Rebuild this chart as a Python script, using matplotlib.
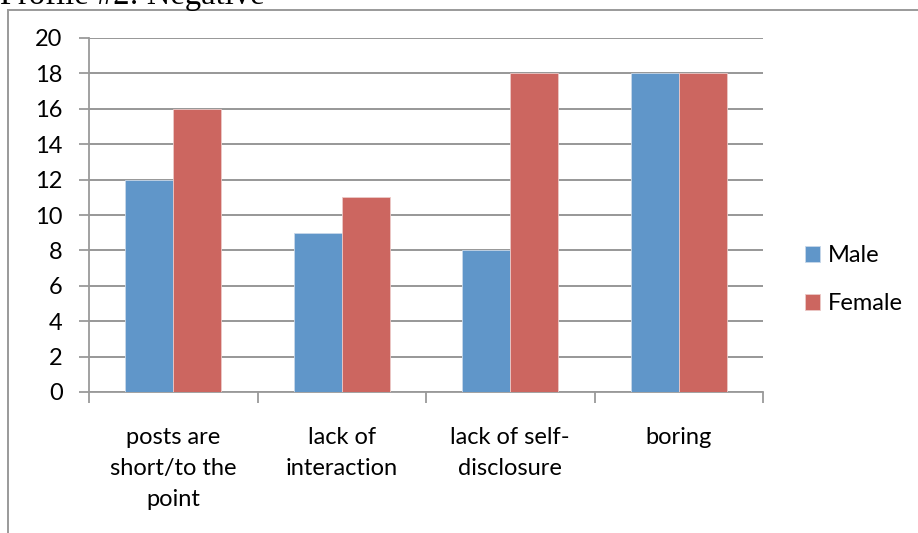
import matplotlib
matplotlib.use("Agg")
import matplotlib.pyplot as plt
import numpy as np
from matplotlib.lines import Line2D

# data
categories = ["posts are\nshort/to the\npoint", "lack of\ninteraction",
              "lack of self-\ndisclosure", "boring"]
male = [12, 9, 8, 18]
female = [16, 11, 18, 18]
series_names = ["Male", "Female"]
y_ticks = [0, 2, 4, 6, 8, 10, 12, 14, 16, 18, 20]

W, H = 918, 533
fig = plt.figure(figsize=(W / 100, H / 100), dpi=100)
plt.rcParams['font.family'] = ['Lato', 'DejaVu Sans']

# frame of the (cropped) chart area
grey = "#9a9a9a"
fig.add_artist(Line2D([8 / W, 1], [1 - 10 / H, 1 - 10 / H], color=grey, lw=1.4))
fig.add_artist(Line2D([8 / W, 8 / W], [1 - 10 / H, 0], color=grey, lw=1.4))

# title, cut off at the top
fig.text(0 / W, 1 - 4 / H, "Profile #2: Negative", family="Liberation Serif",
         fontsize=23.5, va="baseline", ha="left")

ax = fig.add_axes([89 / W, (H - 392) / H, (763 - 89) / W, (392 - 38) / H])

x = np.arange(len(categories)) + 0.5
bw = 0.285
ax.bar(x - bw / 2, male, bw, color="#6096c9", edgecolor="#c8d8ea", linewidth=0.6,
       label=series_names[0], zorder=3)
ax.bar(x + bw / 2, female, bw, color="#cc6660", edgecolor="#ecc9c7", linewidth=0.6,
       label=series_names[1], zorder=3)

ax.set_xlim(0, 4)
ax.set_ylim(0, 20)
ax.set_yticks(y_ticks)
ax.yaxis.grid(True, color="#8f8f8f", lw=1.3, zorder=0)
ax.tick_params(axis="y", length=7, width=1.3, color=grey, labelsize=17, pad=12)

# category labels centred, ticks at boundaries
ax.set_xticks(np.arange(0, 5))
ax.set_xticklabels([])
ax.tick_params(axis="x", length=8, width=1.3, color=grey)
for xi, lab in zip(x, categories):
    ax.text(xi, -1.95, lab, ha="center", va="top", fontsize=17, linespacing=1.6)

for s in ["top", "right"]:
    ax.spines[s].set_visible(False)
for s in ["left", "bottom"]:
    ax.spines[s].set_color(grey)
    ax.spines[s].set_linewidth(1.3)

ax.legend(loc="upper left", bbox_to_anchor=(805 / W, 1 - 245 / H),
          bbox_transform=fig.transFigure, frameon=False, fontsize=17,
          handlelength=0.65, handleheight=0.65, handletextpad=0.3,
          labelspacing=1.15, borderaxespad=0, borderpad=0)

fig.savefig("out.png", dpi=100)
